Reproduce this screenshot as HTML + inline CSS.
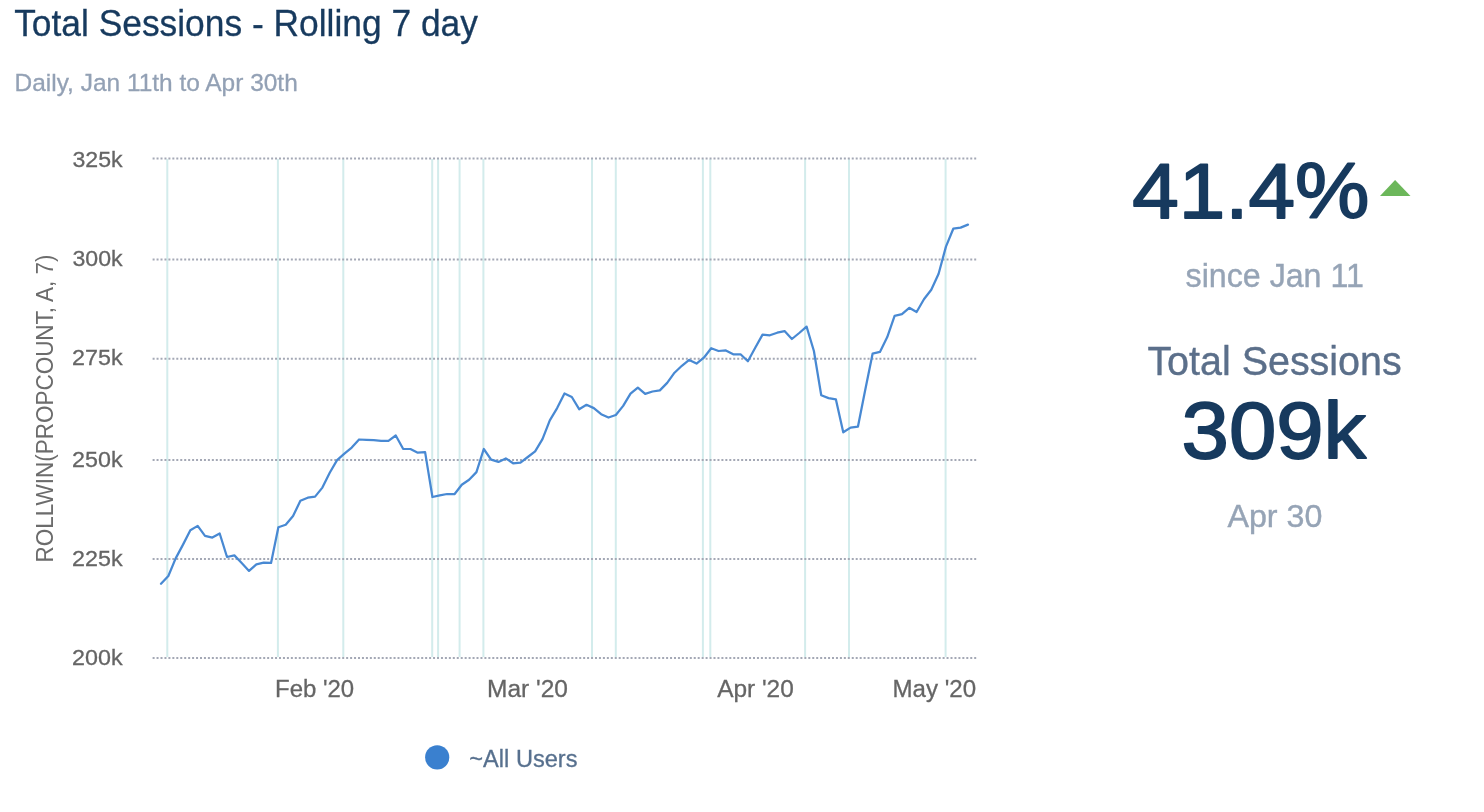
<!DOCTYPE html>
<html><head><meta charset="utf-8"><title>Total Sessions - Rolling 7 day</title>
<style>
html,body{margin:0;padding:0;background:#fff;width:1484px;height:812px;overflow:hidden}
svg{display:block;font-family:"Liberation Sans",sans-serif;will-change:transform}
.ax{fill:#656565;stroke:#656565;stroke-width:0.3px}
.yt{fill:#6c6c6c}
.leg{fill:#57708e;stroke:#57708e;stroke-width:0.3px}
.title{fill:#173a5e;stroke:#173a5e;stroke-width:0.3px}
.sub{fill:#93a1b5;stroke:#93a1b5;stroke-width:0.3px}
.big{fill:#173a5e;stroke:#173a5e}
.since{fill:#96a4b6;stroke:#96a4b6;stroke-width:0.4px}
.ts{fill:#5b6f8a;stroke:#5b6f8a;stroke-width:0.4px}
</style></head>
<body>
<svg width="1484" height="812" viewBox="0 0 1484 812">
<line x1="167.3" y1="159" x2="167.3" y2="657" stroke="#d3ecec" stroke-width="2"/>
<line x1="277.9" y1="159" x2="277.9" y2="657" stroke="#d3ecec" stroke-width="2"/>
<line x1="343.3" y1="159" x2="343.3" y2="657" stroke="#d3ecec" stroke-width="2"/>
<line x1="432.2" y1="159" x2="432.2" y2="657" stroke="#d3ecec" stroke-width="2"/>
<line x1="438.1" y1="159" x2="438.1" y2="657" stroke="#d3ecec" stroke-width="2"/>
<line x1="459.6" y1="159" x2="459.6" y2="657" stroke="#d3ecec" stroke-width="2"/>
<line x1="483.4" y1="159" x2="483.4" y2="657" stroke="#d3ecec" stroke-width="2"/>
<line x1="592.0" y1="159" x2="592.0" y2="657" stroke="#d3ecec" stroke-width="2"/>
<line x1="615.8" y1="159" x2="615.8" y2="657" stroke="#d3ecec" stroke-width="2"/>
<line x1="702.9" y1="159" x2="702.9" y2="657" stroke="#d3ecec" stroke-width="2"/>
<line x1="710.3" y1="159" x2="710.3" y2="657" stroke="#d3ecec" stroke-width="2"/>
<line x1="805.1" y1="159" x2="805.1" y2="657" stroke="#d3ecec" stroke-width="2"/>
<line x1="849.0" y1="159" x2="849.0" y2="657" stroke="#d3ecec" stroke-width="2"/>
<line x1="945.6" y1="159" x2="945.6" y2="657" stroke="#d3ecec" stroke-width="2"/>
<line x1="152.6" y1="158.5" x2="976.3" y2="158.5" stroke="#a4a8b5" stroke-width="2" stroke-dasharray="2 1.95"/>
<line x1="152.6" y1="259.6" x2="976.3" y2="259.6" stroke="#a4a8b5" stroke-width="2" stroke-dasharray="2 1.95"/>
<line x1="152.6" y1="358.7" x2="976.3" y2="358.7" stroke="#a4a8b5" stroke-width="2" stroke-dasharray="2 1.95"/>
<line x1="152.6" y1="460.0" x2="976.3" y2="460.0" stroke="#a4a8b5" stroke-width="2" stroke-dasharray="2 1.95"/>
<line x1="152.6" y1="559.0" x2="976.3" y2="559.0" stroke="#a4a8b5" stroke-width="2" stroke-dasharray="2 1.95"/>
<line x1="152.6" y1="658.0" x2="976.3" y2="658.0" stroke="#a4a8b5" stroke-width="2" stroke-dasharray="2 1.95"/>
<text x="72.43" y="167.00" font-size="22.50" font-weight="normal" textLength="50.19" lengthAdjust="spacingAndGlyphs" class="ax">325k</text>
<text x="72.43" y="266.20" font-size="22.50" font-weight="normal" textLength="50.19" lengthAdjust="spacingAndGlyphs" class="ax">300k</text>
<text x="72.14" y="365.30" font-size="22.50" font-weight="normal" textLength="50.49" lengthAdjust="spacingAndGlyphs" class="ax">275k</text>
<text x="72.14" y="466.60" font-size="22.50" font-weight="normal" textLength="50.49" lengthAdjust="spacingAndGlyphs" class="ax">250k</text>
<text x="72.14" y="565.70" font-size="22.50" font-weight="normal" textLength="50.49" lengthAdjust="spacingAndGlyphs" class="ax">225k</text>
<text x="72.14" y="664.90" font-size="22.50" font-weight="normal" textLength="50.49" lengthAdjust="spacingAndGlyphs" class="ax">200k</text>
<text x="275.02" y="696.70" font-size="24.56" font-weight="normal" textLength="79.12" lengthAdjust="spacingAndGlyphs" class="ax">Feb '20</text>
<text x="486.98" y="696.70" font-size="24.56" font-weight="normal" textLength="80.96" lengthAdjust="spacingAndGlyphs" class="ax">Mar '20</text>
<text x="717.14" y="696.70" font-size="24.56" font-weight="normal" textLength="76.63" lengthAdjust="spacingAndGlyphs" class="ax">Apr '20</text>
<text x="892.51" y="696.70" font-size="24.56" font-weight="normal" textLength="83.60" lengthAdjust="spacingAndGlyphs" class="ax">May '20</text>
<text transform="translate(53.10,562.45) rotate(-90)" x="0" y="0" font-size="24.42" font-weight="normal" textLength="307.98" lengthAdjust="spacingAndGlyphs" class="yt">ROLLWIN(PROPCOUNT, A, 7)</text>
<polyline points="161.00,583.80 168.34,576.00 175.67,558.40 183.01,544.60 190.34,530.20 197.68,525.90 205.02,535.80 212.35,537.60 219.69,533.50 227.02,557.00 234.36,555.40 241.70,563.00 249.03,570.90 256.37,564.40 263.70,562.60 271.04,562.90 278.38,527.20 285.71,524.80 293.05,516.00 300.38,500.80 307.72,497.70 315.06,496.60 322.39,487.60 329.73,472.70 337.06,460.10 344.40,453.70 351.74,447.60 359.07,439.50 366.41,439.90 373.74,440.20 381.08,440.80 388.42,440.80 395.75,435.50 403.09,448.80 410.42,449.00 417.76,452.70 425.10,452.10 432.43,497.00 439.77,495.30 447.10,494.00 454.44,494.20 461.78,484.80 469.11,479.80 476.45,472.10 483.78,449.00 491.12,459.60 498.46,461.90 505.79,458.40 513.13,463.30 520.46,462.70 527.80,457.00 535.14,451.30 542.47,439.10 549.81,420.40 557.14,408.10 564.48,393.50 571.82,397.00 579.15,409.20 586.49,404.80 593.82,408.10 601.16,414.20 608.50,417.50 615.83,415.00 623.17,405.90 630.50,393.70 637.84,387.60 645.18,393.90 652.51,391.50 659.85,390.40 667.18,382.90 674.52,372.70 681.86,365.80 689.19,359.90 696.53,363.60 703.86,357.70 711.20,348.25 718.54,351.00 725.87,350.40 733.21,354.30 740.54,354.30 747.88,361.20 755.22,347.70 762.55,334.60 769.89,335.30 777.22,332.70 784.56,331.10 791.90,339.00 799.23,333.00 806.57,326.60 813.90,351.00 821.24,395.30 828.58,398.10 835.91,399.40 843.25,432.30 850.58,427.60 857.92,426.70 865.26,389.80 872.59,353.70 879.93,351.90 887.26,337.10 894.60,315.80 901.94,314.20 909.27,307.80 916.61,312.00 923.94,299.30 931.28,289.70 938.62,273.70 945.95,246.60 953.29,228.70 960.62,227.60 967.96,224.60" fill="none" stroke="#4889d3" stroke-width="2.25" stroke-linejoin="round" stroke-linecap="round"/>
<circle cx="437.2" cy="757.4" r="12.1" fill="#3a80cf"/>
<text x="469.34" y="767.30" font-size="24.42" font-weight="normal" textLength="108.18" lengthAdjust="spacingAndGlyphs" class="leg">~All Users</text>
<text x="14.20" y="36.10" font-size="36.48" font-weight="normal" textLength="463.71" lengthAdjust="spacingAndGlyphs" class="title">Total Sessions - Rolling 7 day</text>
<text x="14.58" y="91.10" font-size="24.27" font-weight="normal" textLength="283.18" lengthAdjust="spacingAndGlyphs" class="sub">Daily, Jan 11th to Apr 30th</text>
<text x="1132.17" y="217.90" font-size="78.63" font-weight="normal" textLength="237.21" lengthAdjust="spacingAndGlyphs" class="big" stroke-width="1.8" stroke-linejoin="round">41.4%</text>
<polygon points="1395.1,180.0 1380,196.0 1410.5,196.0" fill="#6cb75a"/>
<text x="1185.62" y="287.10" font-size="32.70" font-weight="normal" textLength="178.24" lengthAdjust="spacingAndGlyphs" class="since">since Jan 11</text>
<text x="1147.41" y="375.10" font-size="41.13" font-weight="normal" textLength="254.29" lengthAdjust="spacingAndGlyphs" class="ts">Total Sessions</text>
<text x="1181.61" y="458.00" font-size="80.09" font-weight="normal" textLength="184.58" lengthAdjust="spacingAndGlyphs" class="big" stroke-width="1.8" stroke-linejoin="round">309k</text>
<text x="1227.42" y="526.90" font-size="32.27" font-weight="normal" textLength="94.93" lengthAdjust="spacingAndGlyphs" class="since">Apr 30</text>
</svg>
</body></html>
